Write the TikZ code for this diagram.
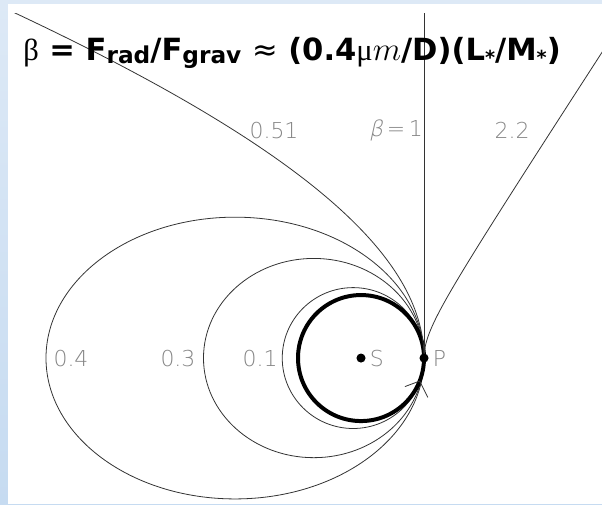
\documentclass[tikz,border=0pt]{standalone}
\usepackage{fontspec}
\setmainfont{DejaVu Sans}
\newfontfamily\thinfont{DejaVu Sans ExtraLight}
\newfontface\thinslant{DejaVu Sans ExtraLight}[FakeSlant=0.22]
\newfontfamily\greekfont{Liberation Serif}
\usepackage{tikz}
\usetikzlibrary{positioning}
\definecolor{slideblue}{HTML}{DDE9F6}
\definecolor{slidebluedk}{HTML}{C6DBF1}
\definecolor{orbitgray}{HTML}{333333}
\definecolor{labelgray}{HTML}{858585}
\tikzset{
  orbit/.style     = {draw=orbitgray, line width=0.6pt},
  orbitzero/.style = {draw=black, line width=3pt},
  betalab/.style   = {font=\fontsize{16.5}{17}\thinfont, text=labelgray, inner sep=0pt},
  bodydot/.style   = {circle, fill=black, minimum size=2.4mm, inner sep=0pt},
}
\newcommand{\boundorbit}[1]{%
  \draw[orbit] ({1-(1-#1)/(1-2*#1)},0) ellipse ({(1-#1)/(1-2*#1)} and {1/sqrt(1-2*#1)});}
\newcommand{\openorbit}[2]{%
  \draw[orbit] plot[domain=0:#2, samples=160, smooth] (\x:{1/((1-#1)+#1*cos(\x))});}
\newcommand{\lowsub}[1]{\raisebox{-2.5pt}{\fontsize{17.5}{17.5}\selectfont #1}}
\newcommand{\lumstar}{\raisebox{-3pt}{\fontsize{14.5}{14.5}\selectfont *}}

\begin{document}
\begin{tikzpicture}[x=1.6664cm, y=1.6664cm]
  \useasboundingbox (-5.730,-2.317) rectangle (3.825,5.683);
  \shade[top color=slideblue, bottom color=slidebluedk] (-5.730,-2.317) rectangle (3.825,5.683);
  \fill[white] (-5.603,-2.317) rectangle (3.825,5.619);
  \coordinate (S) at (0,0);
  \coordinate (P) at (1,0);
  \coordinate (Ptop) at (1,5.476);
  \coordinate (tip) at (-21.4:1);
  \boundorbit{0.1}
  \boundorbit{0.3}
  \boundorbit{0.4}
  \draw[orbitzero] (S) circle (1);
  \begin{scope}
    \clip (-5.603,-2.317) rectangle (3.825,5.476);
    \openorbit{0.51}{138}
    \openorbit{2.2}{52.6}
    \draw[orbit] (P) -- (Ptop);
  \end{scope}
  \draw[orbit] (tip) -- +(200.6:0.25) (tip) -- +(296.6:0.29);
  \node[bodydot] (sdot) at (S) {};
  \node[bodydot] (pdot) at (P) {};
  \node[betalab, right=1mm of sdot] (slab) {S};
  \node[betalab, right=1mm of pdot] (plab) {P};
  \node[betalab] (b04) at (-4.603,0) {0.4};
  \node[betalab] (b03) at (-2.905,0) {0.3};
  \node[betalab] (b01) at (-1.603,0) {0.1};
  \node[betalab] (b051) at (-1.381,3.619) {0.51};
  \node[betalab] (b1) at (0.556,3.619) {{\thinslant β}\,=\,1};
  \node[betalab] (b22) at (2.397,3.619) {2.2};
  \node[anchor=base west, inner sep=0pt, font=\fontsize{23}{27}\selectfont\bfseries] (title)
    at (-5.365,4.730) {{\greekfont\mdseries β} = F\lowsub{rad}/F\lowsub{grav} {\mdseries≈} (0.4{\greekfont\mdseries μ}$m$/D)(L\lumstar/M\lumstar)};
\end{tikzpicture}
\end{document}
